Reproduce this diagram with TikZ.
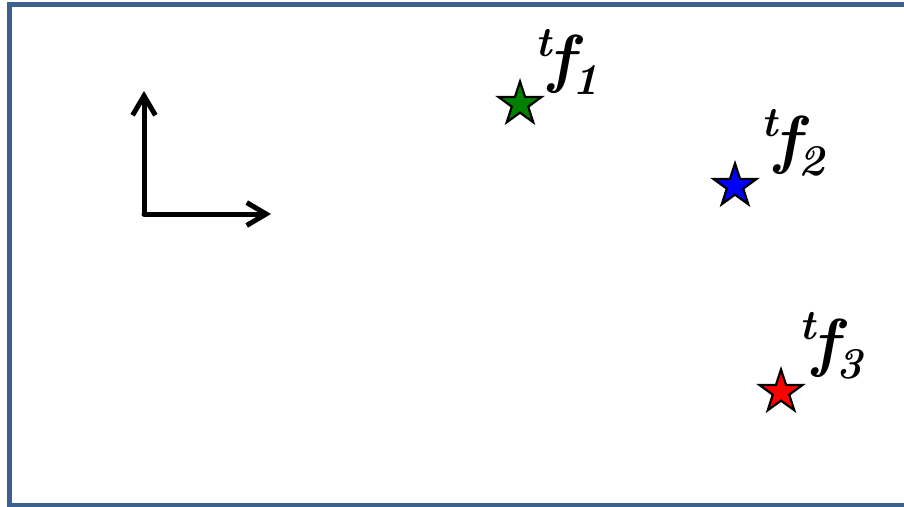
\documentclass[tikz,border=0pt]{standalone}
\usetikzlibrary{shapes.geometric,arrows.meta}

\definecolor{framecol}{RGB}{60,96,142}
\definecolor{featgreen}{RGB}{0,128,0}

\newcommand{\featlabel}[1]{\raisebox{7pt}{\fontsize{12}{12}\selectfont t}\kern-0.8pt f\kern-0.6pt\raisebox{-4pt}{\fontsize{12.5}{12.5}\selectfont #1}}

\begin{document}
\begin{tikzpicture}[x=0.01cm,y=-0.01cm,
    feat/.style={star,star points=5,star point ratio=2.6,minimum size=0.45cm,
        inner sep=0pt,draw=black,line width=0.022cm},
    featlbl/.style={font=\bfseries\itshape\fontsize{18.5}{18.5}\selectfont,inner sep=0pt},
    axis/.style={line width=0.05cm,line cap=round,-{Straight Barb[length=5.5pt,width=6.5pt,line width=0.05cm]}}]

\useasboundingbox (0,0) rectangle (904,506);
\clip (0,0) rectangle (904,506);

% frame
\draw[framecol,line width=0.05cm] (9.5,4.5) rectangle (930,505.5);

% axes
\coordinate (O) at (144,214);

\draw[axis] (O) -- (144,91);

\draw[axis] (O) -- (271,214);

% features
\node[feat,fill=featgreen] (f1) at (520,104) {};

\node[feat,fill=blue] (f2) at (735,186) {};

\node[feat,fill=red] (f3) at (781,392) {};

\node[featlbl] (l1) at (567,62) {\featlabel{1}};

\node[featlbl] (l2) at (793,143) {\featlabel{2}};

\node[featlbl] (l3) at (831,346) {\featlabel{3}};

\end{tikzpicture}
\end{document}
